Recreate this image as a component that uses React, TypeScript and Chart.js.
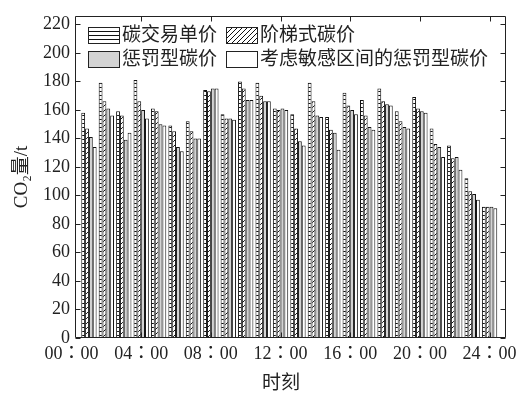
import { useEffect, useRef } from "react";
import { Chart, registerables } from "chart.js";

Chart.register(...registerables);

// ---- data ----
const hours = [1, 2, 3, 4, 5, 6, 7, 8, 9, 10, 11, 12, 13, 14, 15, 16, 17, 18, 19, 20, 21, 22, 23, 24];
const seriesNames = ["碳交易单价", "阶梯式碳价", "惩罚型碳价", "考虑敏感区间的惩罚型碳价"];
const carbonTradePrice = [158, 179, 159, 181, 161, 149, 152, 174, 157, 180, 179, 161, 157, 179, 155, 172, 167, 175, 159, 169, 147, 135, 112, 92];
const steppedPrice = [147, 166, 156, 166, 159, 145, 145, 173, 154, 175, 170, 160, 147, 166, 146, 163, 156, 166, 152, 161, 136, 126, 103, 92];
const penaltyPrice = [141, 161, 139, 160, 150, 134, 140, 175, 154, 167, 166, 161, 138, 156, 144, 160, 148, 164, 148, 159, 134, 127, 101, 92];
const sensitivePenaltyPrice = [134, 156, 144, 154, 149, 131, 140, 175, 153, 167, 166, 160, 135, 155, 132, 157, 146, 163, 147, 158, 127, 118, 97, 91];
const xTickValues = [0, 4, 8, 12, 16, 20, 24];
const xTickLabels = ["00：00", "04：00", "08：00", "12：00", "16：00", "20：00", "24：00"];
const xTitle = "时刻";
const yTitle = "CO₂量/t";

const FONT = "'Liberation Serif', 'Noto Sans CJK SC', serif";
const TICK_FONT = "'Liberation Serif', 'Noto Sans CJK TC', serif";
const INK = "#222";

function hLinePattern(): CanvasPattern {
  const c = document.createElement("canvas");
  c.width = 4;
  c.height = 4;
  const g = c.getContext("2d")!;
  g.fillStyle = "#fff";
  g.fillRect(0, 0, 4, 4);
  g.fillStyle = "#111";
  g.fillRect(0, 3, 4, 1);
  return g.createPattern(c, "repeat")!;
}

function diagPattern(): CanvasPattern {
  const n = 5;
  const c = document.createElement("canvas");
  c.width = n;
  c.height = n;
  const g = c.getContext("2d")!;
  g.fillStyle = "#fff";
  g.fillRect(0, 0, n, n);
  g.fillStyle = "#111";
  for (let i = 0; i < n; i++) g.fillRect(i, n - 1 - i, 1, 1);
  return g.createPattern(c, "repeat")!;
}

const frameTicks = {
  id: "frameTicks",
  afterDatasetsDraw(chart: any) {
    const { ctx, chartArea, scales } = chart;
    const { left, right, top, bottom } = chartArea;
    const x = scales.x;
    const y = scales.y;
    const L = Math.round(left) + 0.5;
    const R = Math.round(right) - 0.5;
    const T = Math.round(top) + 0.5;
    const B = Math.round(bottom) - 0.5;
    const len = 5;
    ctx.save();
    ctx.strokeStyle = INK;
    ctx.lineWidth = 1;
    ctx.beginPath();
    ctx.rect(L, T, R - L, B - T);
    y.ticks.forEach((t: any) => {
      const py = Math.round(y.getPixelForValue(t.value)) + 0.5;
      ctx.moveTo(L, py);
      ctx.lineTo(L + len, py);
      ctx.moveTo(R, py);
      ctx.lineTo(R - len, py);
    });
    x.ticks.forEach((t: any) => {
      const px = Math.round(x.getPixelForValue(t.value)) + 0.5;
      if (px < L || px > R) return;
      ctx.moveTo(px, B);
      ctx.lineTo(px, B - len);
      ctx.moveTo(px, T);
      ctx.lineTo(px, T + len);
    });
    ctx.stroke();
    ctx.restore();
  },
  afterDraw(chart: any) {
    const { ctx } = chart;
    ctx.save();
    // legend (2 x 2, inside plot area)
    const slots = [
      { x: 88, y: 27 },
      { x: 226, y: 27 },
      { x: 88, y: 51 },
      { x: 226, y: 51 },
    ];
    ctx.font = `19px ${FONT}`;
    ctx.textBaseline = "middle";
    ctx.textAlign = "left";
    chart.data.datasets.forEach((ds: any, i: number) => {
      const s = slots[i];
      const w = 32;
      const h = 17;
      ctx.fillStyle = ds.backgroundColor;
      ctx.fillRect(s.x, s.y, w, h);
      ctx.strokeStyle = INK;
      ctx.lineWidth = 1;
      ctx.strokeRect(s.x + 0.5, s.y + 0.5, w - 1, h - 1);
      ctx.fillStyle = INK;
      ctx.fillText(ds.label, s.x + w + 2, s.y + h / 2 + 1);
    });
    // x axis title
    ctx.textAlign = "center";
    ctx.font = `19px ${FONT}`;
    ctx.fillText(xTitle, 281, 384);
    ctx.restore();
  },
};

export default function App() {
  const ref = useRef<HTMLCanvasElement | null>(null);

  useEffect(() => {
    if (!ref.current) return;
    const fills = [hLinePattern(), diagPattern(), "#d3d3d3", "#ffffff"];
    const values = [carbonTradePrice, steppedPrice, penaltyPrice, sensitivePenaltyPrice];
    const chart = new Chart(ref.current, {
      type: "bar",
      data: {
        datasets: values.map((arr, i) => ({
          label: seriesNames[i],
          data: hours.map((h, k) => ({ x: h, y: arr[k] })),
          backgroundColor: fills[i] as any,
          borderColor: "#111",
          borderWidth: 1,
          barPercentage: 1,
          categoryPercentage: 0.88,
        })),
      },
      options: {
        responsive: false,
        animation: false,
        layout: { padding: { top: 12, right: 11, left: 0, bottom: 0 } },
        plugins: { legend: { display: false }, tooltip: { enabled: false } },
        scales: {
          x: {
            type: "linear",
            min: 0.2,
            max: 24.95,
            offset: false,
            grid: { display: false, drawTicks: false },
            border: { display: false },
            afterBuildTicks: (s: any) => {
              s.ticks = xTickValues.map((v) => ({ value: v }));
            },
            afterFit: (s: any) => {
              s.height = 64;
            },
            ticks: {
              autoSkip: false,
              maxRotation: 0,
              padding: 5,
              color: INK,
              font: { family: TICK_FONT, size: 18 },
              callback: (v: any) => {
                const i = xTickValues.indexOf(Number(v));
                return i >= 0 ? xTickLabels[i] : "";
              },
            },
          },
          y: {
            min: 0,
            max: 226,
            grid: { display: false, drawTicks: false },
            border: { display: false },
            afterFit: (s: any) => {
              s.width = 75;
            },
            ticks: {
              stepSize: 20,
              includeBounds: false,
              padding: 5,
              color: INK,
              font: { family: FONT, size: 18 },
            },
            title: {
              display: true,
              text: yTitle,
              color: INK,
              padding: { top: 11, bottom: 0 },
              font: { family: FONT, size: 19 },
            },
          },
        },
      },
      plugins: [frameTicks],
    });
    return () => chart.destroy();
  }, []);

  return (
    <div style={{ position: "fixed", left: 0, top: 0, width: 522, height: 402, background: "#fff" }}>
      <canvas ref={ref} width={522} height={402} style={{ display: "block" }} />
    </div>
  );
}
